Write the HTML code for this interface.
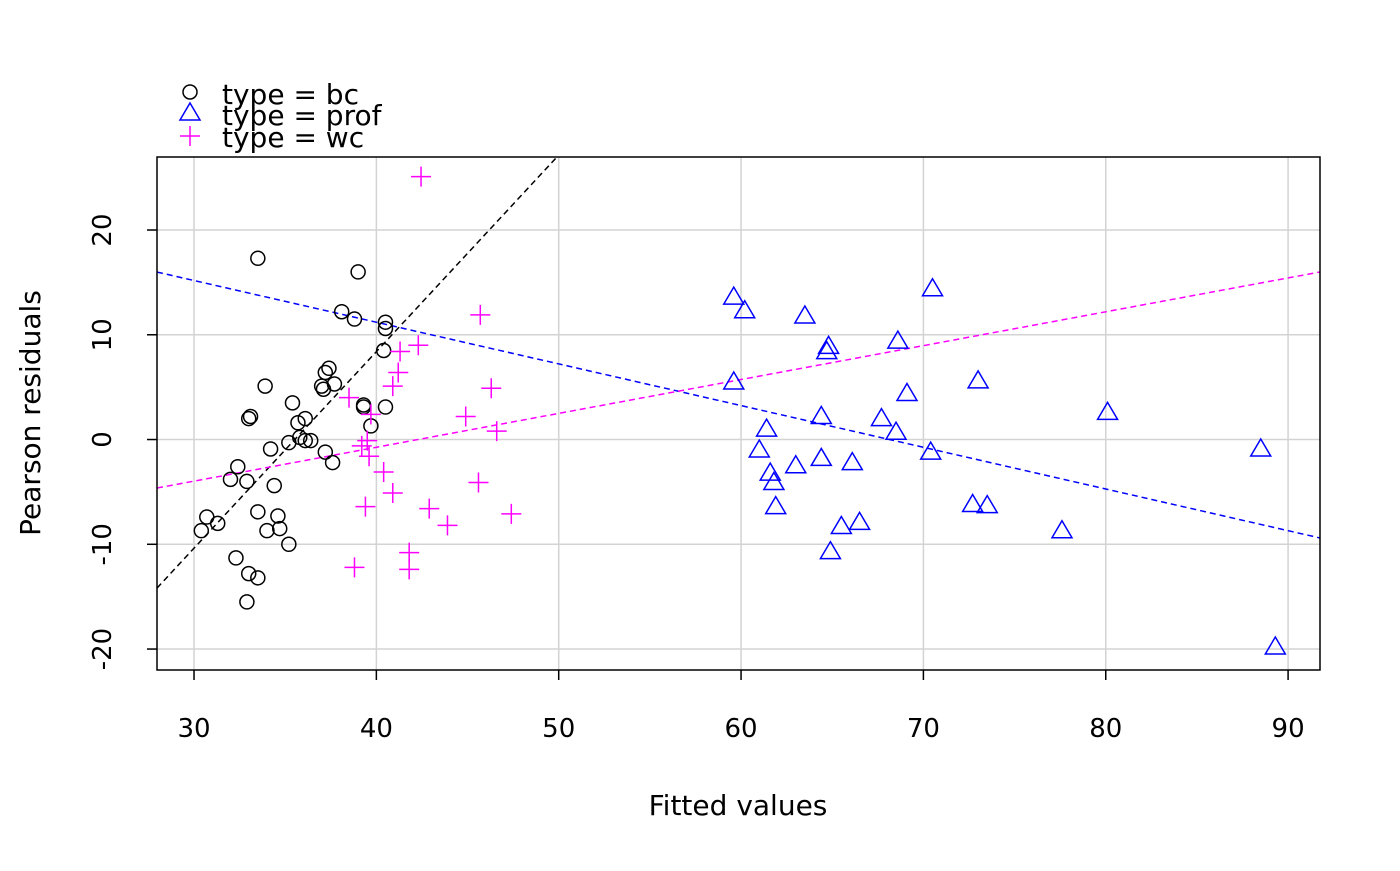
<!DOCTYPE html>
<html><head><meta charset="utf-8"><style>
body{margin:0;background:#fff;}
svg text{font-family:"DejaVu Sans","Liberation Sans",sans-serif;}
</style></head><body>
<svg id="chart" width="1400" height="866" xmlns="http://www.w3.org/2000/svg">
<defs><clipPath id="clip"><rect x="157" y="157" width="1163" height="513"/></clipPath></defs>
<g id="grid"></g>
<g id="lines" clip-path="url(#clip)"></g>
<g id="points"></g>
<rect x="157" y="157" width="1163" height="513" fill="none" stroke="#000" stroke-width="1.5"/>
<g id="axes"></g>
<text x="738" y="815" font-size="28" text-anchor="middle">Fitted values</text>
<text transform="translate(40,413) rotate(-90)" font-size="28" text-anchor="middle">Pearson residuals</text>
<g>
<circle cx="190" cy="92" r="7" fill="none" stroke="#000" stroke-width="1.5"/>
<text x="222" y="104" font-size="28">type = bc</text>
<polygon points="190,103 200,120 180,120" fill="none" stroke="#00f" stroke-width="1.5"/>
<text x="222" y="125" font-size="28">type = prof</text>
<path d="M180,136H200M190,126V146" stroke="#f0f" stroke-width="1.5"/>
<text x="222" y="147" font-size="28">type = wc</text>
</g>
</svg>
<script>
const xTicks=[30,40,50,60,70,80,90];
const yTicks=[-20,-10,0,10,20];
const bcX=[33.5,39.0,38.1,38.8,40.5,40.5,40.4,37.4,37.2,37.7,37.0,37.1,33.9,35.4,39.3,39.3,40.5,33.1,33.0,36.1,35.7,35.8,36.1,36.4,35.2,39.7,34.2,37.2,37.6,32.4,32.0,32.9,34.4,30.7,30.4,31.3,33.5,34.6,34.7,34.0,35.2,32.3,33.0,33.5,32.9];
const bcY=[17.3,16.0,12.2,11.5,11.2,10.6,8.5,6.8,6.4,5.3,5.1,4.8,5.1,3.5,3.3,3.1,3.1,2.2,2.0,2.0,1.6,0.2,-0.1,-0.1,-0.3,1.3,-0.9,-1.2,-2.2,-2.6,-3.8,-4.0,-4.4,-7.4,-8.7,-8.0,-6.9,-7.3,-8.5,-8.7,-10.0,-11.3,-12.8,-13.2,-15.5];
const profX=[59.6,60.2,63.5,70.5,64.8,64.7,68.6,59.6,73.0,69.1,80.1,64.4,67.7,68.5,61.4,61.0,70.4,88.5,61.6,61.8,63.0,64.4,66.1,61.9,72.7,73.5,65.5,66.5,77.6,64.9,89.3];
const profY=[13.5,12.2,11.7,14.3,8.8,8.3,9.3,5.4,5.5,4.3,2.5,2.1,1.9,0.6,0.9,-1.1,-1.3,-1.0,-3.3,-4.2,-2.6,-1.9,-2.3,-6.5,-6.3,-6.4,-8.4,-8.0,-8.8,-10.8,-19.9];
const wcX=[42.45,45.7,42.3,41.3,41.2,40.9,46.3,38.5,39.7,44.9,46.6,39.5,39.2,39.6,40.4,45.6,40.9,39.4,42.9,43.9,47.4,41.8,38.8,41.8];
const wcY=[25.1,11.9,9.0,8.4,6.4,5.1,4.9,4.0,2.4,2.2,0.8,-0.1,-0.6,-1.6,-3.1,-4.1,-5.1,-6.4,-6.6,-8.2,-7.1,-10.8,-12.2,-12.4];
const lineNames=['bc','prof','wc'];
const lineIntercepts=[-66.65,27.12,-13.67];
const lineSlopes=[1.876,-0.398,0.3233];
const colors={bc:'#000',prof:'#00f',wc:'#f0f'};
const xmin=27.97,xmax=91.75,ymin=-22.0,ymax=26.97;
const L=157,R=1320,T=157,B=670;
const sx=v=>L+(v-xmin)/(xmax-xmin)*(R-L);
const sy=v=>B-(v-ymin)/(ymax-ymin)*(B-T);
const NS='http://www.w3.org/2000/svg';
function mk(tag,attrs,parent){const e=document.createElementNS(NS,tag);for(const k in attrs)e.setAttribute(k,attrs[k]);parent.appendChild(e);return e;}
const grid=document.getElementById('grid'),axes=document.getElementById('axes');
xTicks.forEach(t=>{
 const g=mk('line',{x1:sx(t),x2:sx(t),y1:T,y2:B,stroke:'#d3d3d3','stroke-width':1.5},grid);
 
 
 const k=mk('line',{x1:sx(t),x2:sx(t),y1:B,y2:B+10,stroke:'#000','stroke-width':1.5},axes);
 
 
 const tx=mk('text',{x:sx(t),y:B+67,'font-size':26,'text-anchor':'middle'},axes);
 tx.textContent=t;
 
 
});
yTicks.forEach(t=>{
 const g=mk('line',{x1:L,x2:R,y1:sy(t),y2:sy(t),stroke:'#d3d3d3','stroke-width':1.5},grid);
 
 
 const k=mk('line',{x1:L-10,x2:L,y1:sy(t),y2:sy(t),stroke:'#000','stroke-width':1.5},axes);
 
 
 const tx=mk('text',{transform:`translate(${L-46},${sy(t)}) rotate(-90)`,'font-size':26,'text-anchor':'middle'},axes);
 tx.textContent=t;
 
 
});
const lines=document.getElementById('lines');
lineNames.forEach((n,i)=>{
 const f=x=>lineIntercepts[i]+lineSlopes[i]*x;
 const l=mk('line',{x1:sx(xmin),y1:sy(f(xmin)),x2:sx(xmax),y2:sy(f(xmax)),stroke:colors[n],'stroke-width':1.5,'stroke-dasharray':'6,4'},lines);
 
 
});
const pts=document.getElementById('points');
bcX.forEach((x,i)=>{
 const c=mk('circle',{cx:sx(x),cy:sy(bcY[i]),r:7,fill:'none',stroke:'#000','stroke-width':1.5},pts);
 
 
});
profX.forEach((x,i)=>{
 const X=sx(x),Y=sy(profY[i]);
 const p=mk('polygon',{points:`${X},${Y-11} ${X+10},${Y+6} ${X-10},${Y+6}`,fill:'none',stroke:'#00f','stroke-width':1.5},pts);
 
 
});
wcX.forEach((x,i)=>{
 const X=sx(x),Y=sy(wcY[i]);
 const p=mk('path',{d:`M${X-10},${Y}H${X+10}M${X},${Y-10}V${Y+10}`,stroke:'#f0f','stroke-width':1.5},pts);
 
 
});
</script>
</body></html>
